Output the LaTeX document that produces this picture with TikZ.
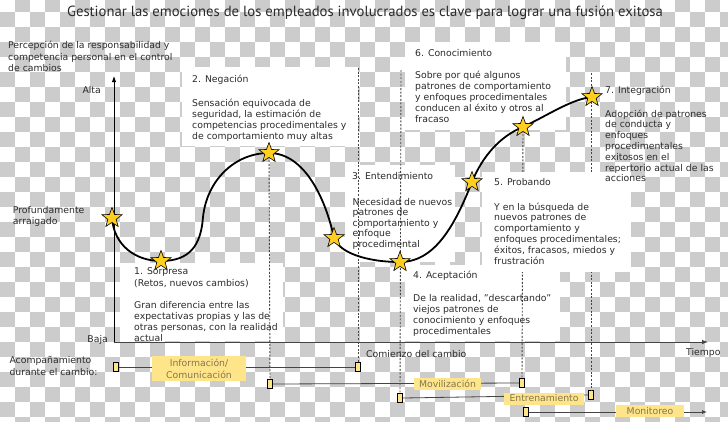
\documentclass[tikz,border=0pt]{standalone}
\usepackage{fontspec}
\setmainfont{DejaVu Sans}
\newfontfamily\titlefont{PT Sans}
\usetikzlibrary{shapes.geometric,arrows.meta}
\definecolor{chk}{HTML}{CCCCCC}
\definecolor{staryel}{HTML}{FFCF1F}
\definecolor{labyel}{HTML}{FFE58A}
\definecolor{tc}{HTML}{2B2B2B}
\definecolor{labtc}{HTML}{857550}
\definecolor{dashc}{HTML}{444444}
\begin{document}
\begin{tikzpicture}[x=1pt,y=-1pt,
  txt/.style={font=\fontsize{9.3}{11}\selectfont, align=left, anchor=base west, inner sep=0, text=tc},
  wbox/.style={fill=white, draw=none},
  starnode/.style={star, star points=5, star point ratio=2.4, minimum size=21, inner sep=0, fill=staryel, draw=black, line width=0.6},
  mk/.style={draw=black, fill=labyel, minimum width=5, minimum height=9, inner sep=0, line width=0.7},
  lab/.style={fill=labyel, inner sep=0, text=labtc, font=\fontsize{9.3}{12}\selectfont, align=center},
  tl/.style={draw=dashc, line width=0.8},
  vdash/.style={draw=dashc, line width=0.9, dash pattern=on 2pt off 1.6pt},
  curve/.style={draw=black, line width=1.8}
]
\useasboundingbox (0,0) rectangle (728,421);
\clip (0,0) rectangle (728,421);
% transparency checkerboard
\fill[white] (0,0) rectangle (728,421);
\foreach \i in {0,...,48}{
  \foreach \j in {0,...,28}{
    \pgfmathtruncatemacro{\cpar}{mod(\i+\j,2)}
    \ifnum\cpar=1 \fill[chk] (\i*15,\j*15-2.7) rectangle ++(15,15); \fi
  }
}
% white text boxes
\fill[wbox] (182,67) rectangle (358,146);
\fill[wbox] (405,42) rectangle (566,130);
\fill[wbox] (120,263) rectangle (283,341);
\fill[wbox] (345,165) rectangle (455,262);
\fill[wbox] (405,265) rectangle (560,341);

% title
\node[font=\titlefont\fontsize{14.7}{16}\selectfont, text=tc, anchor=base, inner sep=0] (title) at (365,16.5) {Gestionar las emociones de los empleados involucrados es clave para lograr una fusión exitosa};

% star positions
\coordinate (p0) at (112,218);
\coordinate (p1) at (161,261);
\coordinate (pm) at (203,217);
\coordinate (p2) at (269,153);
\coordinate (p3) at (334,238);
\coordinate (p4) at (400,262);
\coordinate (p5) at (472,182);
\coordinate (p6) at (523,127);
\coordinate (p7) at (592,97);

% timeline markers
\node[mk] (a1) at (116,367) {};
\node[mk] (a2) at (358,367) {};
\node[mk] (b1) at (270,384) {};
\node[mk] (b2) at (522,383) {};
\node[mk] (c1) at (400,398) {};
\node[mk] (c2) at (591,395) {};
\node[mk] (d1) at (526,412) {};
\coordinate (dend) at (707,412);

% dashed verticals
\coordinate (t358) at (358,68);
\coordinate (t401) at (401,70);
\coordinate (t591) at (591,73);
\draw[vdash] (p2) -- (b1.north);
\draw[vdash] (t358) -- (a2.north);
\draw[vdash] (t401) -- (c1.north);
\draw[vdash] (p6) -- (b2.north);
\draw[vdash] (t591) -- (c2.north);

% Probando box covers the dashes
\fill[wbox] (482,172) rectangle (631,272);

% axes
\coordinate (org) at (114,342);
\coordinate (ytop) at (114,76);
\coordinate (xend) at (708,342);
\draw[line width=0.9, -{Latex[length=6,width=4.5]}] (org) -- (ytop);
\draw[line width=0.9, draw=dashc, -{Latex[length=6,width=4.5]}] (org) -- (xend);

% curve
\draw[curve] (p0) .. controls (114,245) and (135,261) .. (p1)
  .. controls (190,261) and (201,245) .. (pm)
  .. controls (207,180) and (235,153) .. (p2)
  .. controls (305,153) and (326,200) .. (p3)
  .. controls (339,252) and (365,262) .. (p4)
  .. controls (435,262) and (455,225) .. (p5)
  .. controls (482,157) and (500,136) .. (p6)
  .. controls (550,114) and (572,99) .. (p7);

\foreach \k in {0,...,7}{ \node[starnode] (s\k) at (p\k) {}; }

% timelines
\draw[tl] (a1.east) -- (a2.west);
\draw[tl] (b1.east) -- (b2.west);
\draw[tl] (c1.east) -- (c2.west);
\draw[tl, -{Latex[length=5,width=4]}] (d1.east) -- (dend);
\node[lab, minimum width=94, minimum height=25] (info) at (199,368.5) {Información/\\Comunicación};
\node[lab, minimum width=67, minimum height=12] (movi) at (447.5,384) {Movilización};
\node[lab, minimum width=80, minimum height=12] (entr) at (544,398.5) {Entrenamiento};
\node[lab, minimum width=68, minimum height=12] (moni) at (650,411) {Monitoreo};

% texts (multi-line nodes are placed by the baseline of their last line)
\node[txt, font=\fontsize{9.3}{11.5}\selectfont] (ylab) at (8,71.5) {Percepción de la responsabilidad y\\competencia personal en el control\\de cambios};
\node[txt, anchor=base east] (alta) at (101,93) {Alta};
\node[txt] (prof) at (12.7,224.5) {Profundamente\\arraigado};
\node[txt, anchor=base east] (baja) at (108,342.5) {Baja};
\node[txt, font=\fontsize{9.3}{11.5}\selectfont] (acomp) at (9.3,375) {Acompañamiento\\durante el cambio:};

\node[txt] (negh) at (192,82) {2. Negación};
\node[txt, font=\fontsize{9.3}{11.1}\selectfont] (negb) at (192,139.8) {Sensación equivocada de\\seguridad, la estimación de\\competencias procedimentales y\\de comportamiento muy altas};

\node[txt] (conh) at (415,56) {6. Conocimiento};
\node[txt, font=\fontsize{9.3}{10.9}\selectfont] (conb) at (415,122.1) {Sobre por qué algunos\\patrones de comportamiento\\y enfoques procedimentales\\conducen al éxito y otros al\\fracaso};

\node[txt] (inth) at (605,93) {7. Integración};
\node[txt, font=\fontsize{9.3}{10.8}\selectfont] (intb) at (605,181.8) {Adopción de patrones\\de conducta y\\enfoques\\procedimentales\\exitosos en el\\repertorio actual de las\\acciones};

\node[txt] (enth) at (352,179.5) {3. Entendimiento};
\node[txt, font=\fontsize{9.3}{10.5}\selectfont] (entb) at (352.5,247) {Necesidad de nuevos\\patrones de\\comportamiento y\\enfoque\\procedimental};

\node[txt] (proh) at (494,185) {5. Probando};
\node[txt, font=\fontsize{9.3}{10.8}\selectfont] (prob) at (494,264) {Y en la búsqueda de\\nuevos patrones de\\comportamiento y\\enfoques procedimentales;\\éxitos, fracasos, miedos y\\frustración};

\node[txt] (aceh) at (413,278.5) {4. Aceptación};
\node[txt, font=\fontsize{9.3}{11.1}\selectfont] (aceb) at (413,334.8) {De la realidad, "descartando"\\viejos patrones de\\conocimiento y enfoques\\procedimentales};

\node[txt, font=\fontsize{9.3}{12}\selectfont] (sorh) at (134,286) {1. Sorpresa\\(Retos, nuevos cambios)};
\node[txt, font=\fontsize{9.3}{11}\selectfont] (sorb) at (134,341.5) {Gran diferencia entre las\\expectativas propias y las de\\otras personas, con la realidad\\actual};

\node[txt] (comi) at (366,357.5) {Comienzo del cambio};
\node[txt] (tiem) at (686,355) {Tiempo};
\end{tikzpicture}
\end{document}
